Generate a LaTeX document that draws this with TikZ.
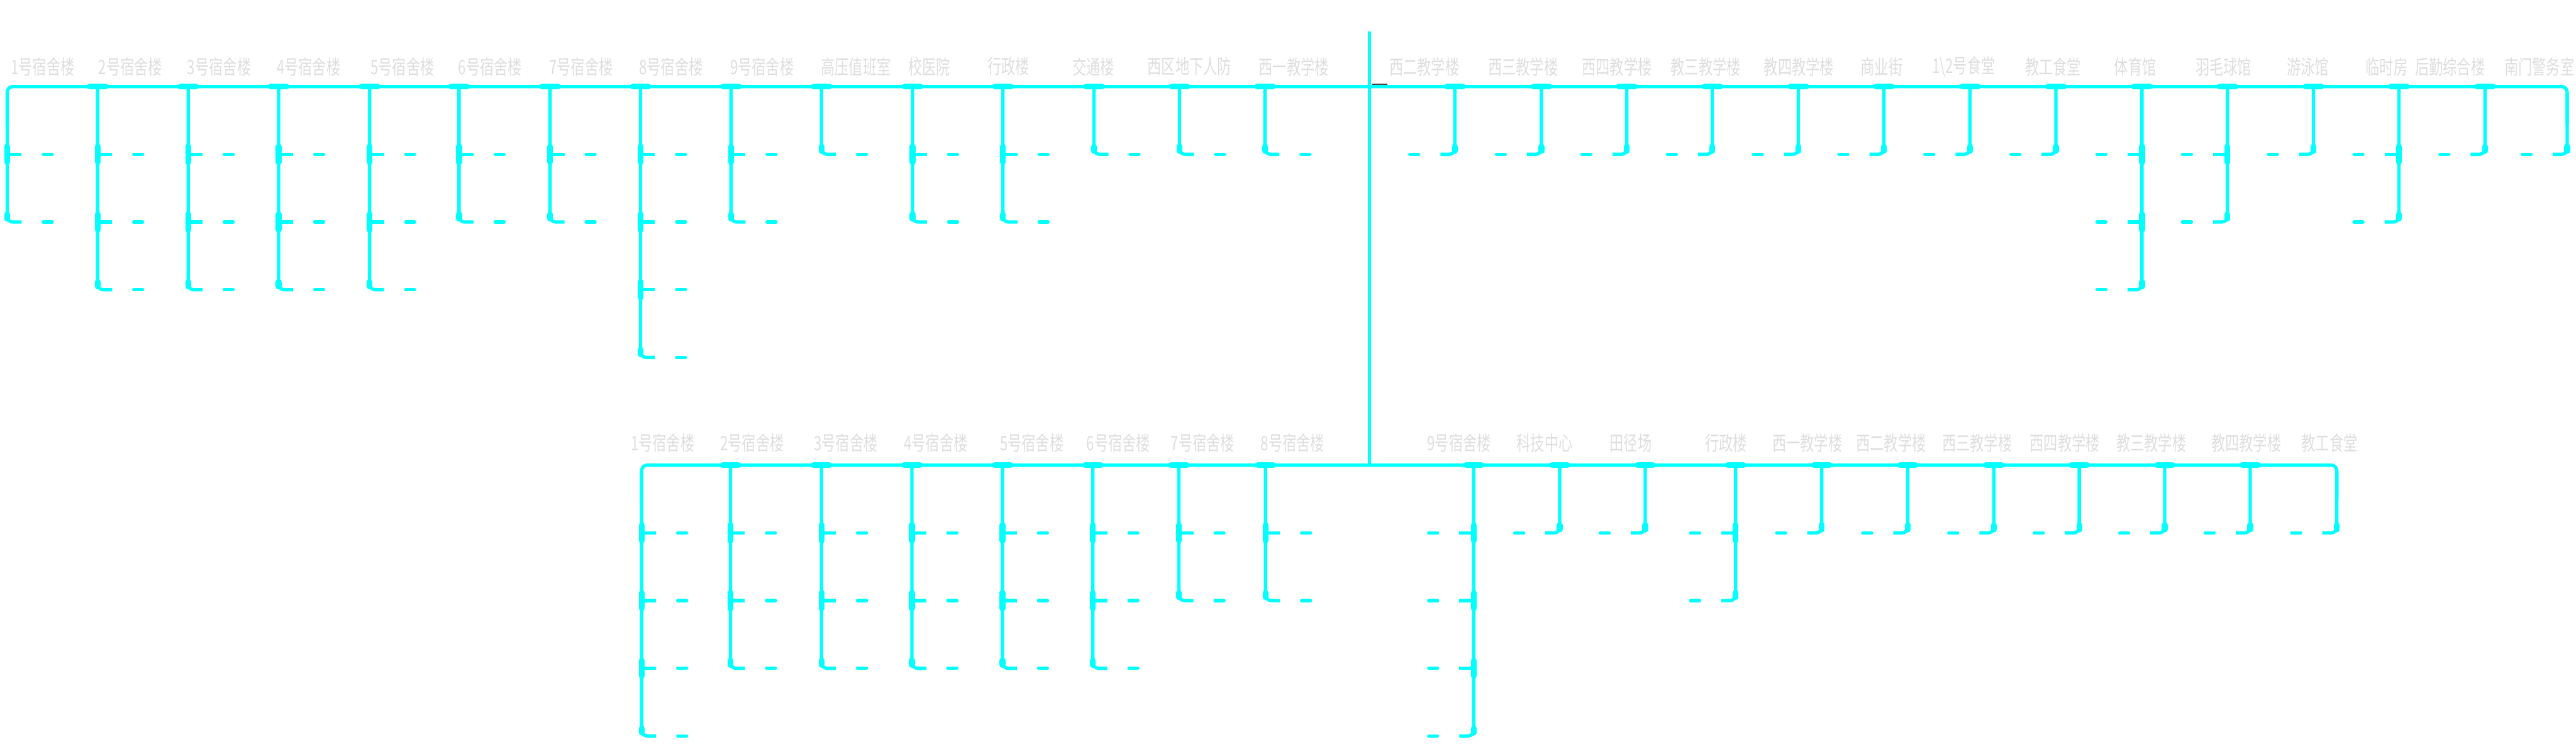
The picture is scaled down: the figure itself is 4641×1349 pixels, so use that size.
\documentclass[tikz,border=0pt]{standalone}
\usepackage{fontspec}
\newfontfamily\cjk[FakeStretch=0.7]{Noto Sans CJK SC}
\definecolor{linecyan}{HTML}{00FFFF}
\definecolor{labelgray}{HTML}{DEDEDE}
\newcommand\drawbranch[6]{%
  \pgfmathsetmacro\bStart{#3+#6}%
  \pgfmathsetmacro\bEnd{#3+122*#4}%
  \pgfmathsetmacro\bStub{#2+26*(#5)}%
  \coordinate (#1top) at (#2,\bStart);
  \coordinate (#1bot) at (#2,\bEnd);
  \coordinate (#1tip) at (\bStub,\bEnd);
  \draw[conn, rounded corners=2pt] (#1top) -- (#1bot) -- (#1tip);
  \foreach \k in {1,...,#4}{%
    \pgfmathsetmacro\cy{#3+122*\k}%
    \pgfmathsetmacro\da{#2+65*(#5)}%
    \pgfmathsetmacro\db{#2+81*(#5)}%
    \coordinate (#1d\k-a) at (\da,\cy);
    \coordinate (#1d\k-b) at (\db,\cy);
    \draw[dashseg] (#1d\k-a) -- (#1d\k-b);
    \ifnum\k<#4\relax
      \coordinate (#1j\k) at (#2,\cy);
      \coordinate (#1s\k) at (\bStub,\cy);
      \draw[conn] (#1j\k) -- (#1s\k);
      \draw[blob] (#2,\cy-14) -- (#2,\cy+14);
    \else
      \draw[blob] (#2,\cy-14) -- (#2,\cy-6);
    \fi
  }%
}
\begin{document}
\begin{tikzpicture}[x=0.2pt,y=-0.2pt,
  conn/.style={draw=linecyan, line width=1.2pt},
  blob/.style={draw=linecyan, line width=2.1pt, line cap=round},
  dashseg/.style={draw=linecyan, line width=1.2pt, line cap=round},
  lbl/.style={text=labelgray, inner sep=0pt, font=\cjk\fontsize{7.2}{8.6}\selectfont}]
\useasboundingbox (0,0) rectangle (4641,1349);

% ---------- labels, top row ----------
\foreach \nm/\x/\t in {
  t1/77/1号宿舍楼, t2/235/2号宿舍楼, t3/395/3号宿舍楼, t4/556/4号宿舍楼,
  t5/725/5号宿舍楼, t6/883/6号宿舍楼, t7/1047/7号宿舍楼, t8/1209/8号宿舍楼,
  t9/1373/9号宿舍楼, t10/1542/高压值班室, t11/1674/校医院, t12/1817/行政楼,
  t13/1970/交通楼, t14/2143/西区地下人防, t15/2331/西一教学楼,
  t16/2566/西二教学楼, t17/2744/西三教学楼, t18/2913/西四教学楼,
  t19/3073/教三教学楼, t20/3241/教四教学楼, t21/3390/商业街,
  t23/3699/教工食堂, t24/3847/体育馆, t25/4006/羽毛球馆, t26/4158/游泳馆,
  t27/4300/临时房, t28/4414/后勤综合楼, t29/4575/南门警务室}
  \node[lbl] (\nm) at (\x,120) {\t};
\node[lbl] (t22) at (3538,120) {1\textbackslash 2号食堂};

% ---------- labels, bottom row ----------
\foreach \nm/\x/\t in {
  b1/1194/1号宿舍楼, b2/1355/2号宿舍楼, b3/1524/3号宿舍楼, b4/1686/4号宿舍楼,
  b5/1859/5号宿舍楼, b6/2015/6号宿舍楼, b7/2167/7号宿舍楼, b8/2329/8号宿舍楼,
  b9/2629/9号宿舍楼, b10/2783/科技中心, b11/2938/田径场, b12/3110/行政楼,
  b13/3256/西一教学楼, b14/3407/西二教学楼, b15/3562/西三教学楼,
  b16/3720/西四教学楼, b17/3876/教三教学楼, b18/4047/教四教学楼,
  b19/4197/教工食堂}
  \node[lbl] (\nm) at (\x,798) {\t};

% ---------- trunk and bus lines ----------
\draw[line width=0.5pt, draw=black!75] (2472,151.5) -- (2500,151.5);
\coordinate (root) at (2467,57);
\coordinate (rootmid) at (2467,156);
\coordinate (rootbot) at (2467,838);
\draw[conn] (root) -- (rootbot);
\coordinate (busTL) at (13,225);
\coordinate (busTLc) at (13,156);
\coordinate (busTRc) at (4625,156);
\coordinate (busTR) at (4625,225);
\draw[conn, rounded corners=2pt] (busTL) -- (busTLc) -- (busTRc) -- (busTR);
\coordinate (busBL) at (1156,900);
\coordinate (busBLc) at (1156,838);
\coordinate (busBRc) at (4210,838);
\coordinate (busBR) at (4210,900);
\draw[conn, rounded corners=2pt] (busBL) -- (busBLc) -- (busBRc) -- (busBR);

% ---------- junction blobs on bus lines ----------
\foreach \x in {176,339,502,666,827,991,1154,1317,1480,1644,1807,1971,2125,2279,
                2621,2777,2931,3085,3240,3394,3549,3704,3859,4013,4168,4322,4477}
  \draw[blob] (\x-14,156) -- (\x+14,156);
\foreach \x in {1316,1480,1643,1806,1969,2124,2280,
                2655,2810,2964,3127,3282,3437,3592,3746,3900,4054}
  \draw[blob] (\x-14,838) -- (\x+14,838);

% ---------- branches, top-left (children to the right) ----------
\drawbranch{ca1}{13}{156}{2}{1}{12}
\foreach \nm/\x/\n in {ca2/176/3, ca3/339/3, ca4/502/3, ca5/666/3, ca6/827/2,
  ca7/991/2, ca8/1154/4, ca9/1317/2, ca10/1480/1, ca11/1644/2, ca12/1807/2,
  ca13/1971/1, ca14/2125/1, ca15/2279/1}
  {\drawbranch{\nm}{\x}{156}{\n}{1}{0}}

% ---------- branches, top-right (children to the left) ----------
\foreach \nm/\x/\n in {cb1/2621/1, cb2/2777/1, cb3/2931/1, cb4/3085/1, cb5/3240/1,
  cb6/3394/1, cb7/3549/1, cb8/3704/1, cb9/3859/3, cb10/4013/2, cb11/4168/1,
  cb12/4322/2, cb13/4477/1}
  {\drawbranch{\nm}{\x}{156}{\n}{-1}{0}}
\drawbranch{cb14}{4625}{156}{1}{-1}{12}

% ---------- branches, bottom-left (children to the right) ----------
\drawbranch{cc1}{1156}{838}{4}{1}{12}
\foreach \nm/\x/\n in {cc2/1316/3, cc3/1480/3, cc4/1643/3, cc5/1806/3,
  cc6/1969/3, cc7/2124/2, cc8/2280/2}
  {\drawbranch{\nm}{\x}{838}{\n}{1}{0}}

% ---------- branches, bottom-right (children to the left) ----------
\foreach \nm/\x/\n in {cd1/2655/4, cd2/2810/1, cd3/2964/1, cd4/3127/2, cd5/3282/1,
  cd6/3437/1, cd7/3592/1, cd8/3746/1, cd9/3900/1, cd10/4054/1}
  {\drawbranch{\nm}{\x}{838}{\n}{-1}{0}}
\drawbranch{cd11}{4210}{838}{1}{-1}{12}
\end{tikzpicture}
\end{document}
